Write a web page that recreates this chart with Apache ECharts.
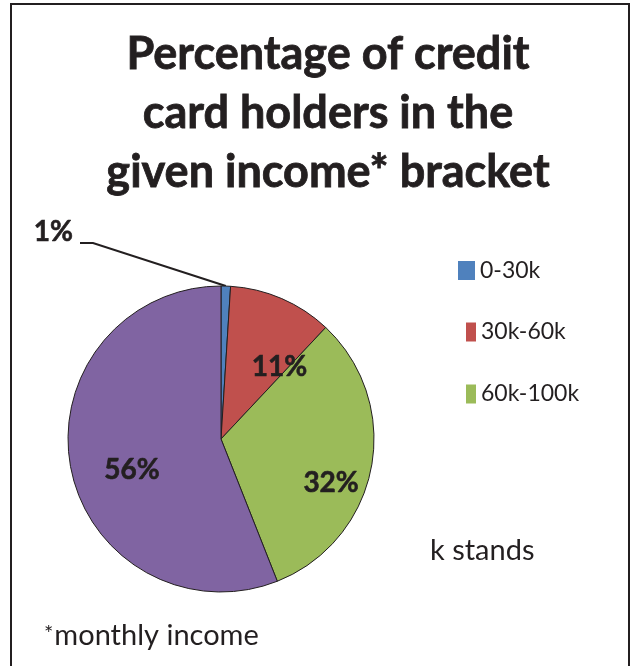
<!DOCTYPE html>
<html>
<head>
<meta charset="utf-8">
<script src="https://cdn.jsdelivr.net/npm/echarts@6/dist/echarts.min.js"></script>
<style>
  html, body { margin: 0; padding: 0; background: #ffffff; }
  #chart { width: 632px; height: 666px; }
</style>
</head>
<body>
<div id="chart"></div>
<script>
// Income brackets and the share of card holders in each
const brackets = ['0-30k', '30k-60k', '60k-100k', '>100k'];
const shares = [1, 11, 32, 56];
const legendBrackets = ['0-30k', '30k-60k', '60k-100k'];
const titleLines = ['Percentage of credit', 'card holders in the', 'given income* bracket'];
const noteText = 'monthly income';
const keyText = 'k stands';

// Styling
const palette = ['#4F81BD', '#C0504D', '#9BBB59', '#8064A2'];
const ink = '#231f20';
const font = 'Lato';
// Per-slice shift of the inside labels away from the default half-radius spot
const labelNudge = [null, [27, 1], [32, 29], [-11, 16]];
// Legend swatch placement (one legend block per entry)
const legendSpec = [
  { left: 458, top: 259, w: 17 },
  { left: 466, top: 320.5, w: 10 },
  { left: 466, top: 382.5, w: 10 }
];

const chart = echarts.init(document.getElementById('chart'), null, { renderer: 'canvas' });

const option = {
  animation: false,
  backgroundColor: '#ffffff',
  legend: legendBrackets.map((name, i) => ({
    data: [name],
    left: legendSpec[i].left,
    top: legendSpec[i].top,
    padding: 0,
    icon: 'rect',
    itemWidth: legendSpec[i].w,
    itemHeight: 19,
    selectedMode: false,
    itemStyle: { borderWidth: 0 },
    textStyle: { fontFamily: font, fontSize: 23, color: ink, lineHeight: 19 }
  })),
  graphic: [
    {
      type: 'rect',
      silent: true,
      shape: { x: 11, y: 4, width: 618, height: 720 },
      style: { fill: 'none', stroke: ink, lineWidth: 2 }
    },
    {
      type: 'text',
      silent: true,
      x: 328,
      y: 25,
      style: {
        text: titleLines.join('\n'),
        textAlign: 'center',
        textVerticalAlign: 'top',
        fontFamily: font,
        fontWeight: 'bold',
        fontSize: 45,
        lineHeight: 59,
        fill: ink,
        stroke: ink,
        lineWidth: 0.8
      }
    },
    {
      type: 'text',
      silent: true,
      x: 430,
      y: 551,
      style: {
        text: keyText,
        textAlign: 'left',
        textVerticalAlign: 'middle',
        fontFamily: font,
        fontSize: 29,
        fill: ink
      }
    },
    {
      type: 'text',
      silent: true,
      x: 44,
      y: 636,
      style: {
        text: '{star|*}{body|' + noteText + '}',
        textAlign: 'left',
        textVerticalAlign: 'middle',
        rich: {
          star: { fontFamily: font, fontSize: 22, fill: ink, verticalAlign: 'top', padding: [1, 1, 0, 0] },
          body: { fontFamily: font, fontSize: 29, fill: ink }
        }
      }
    }
  ],
  series: [
    {
      type: 'pie',
      center: [221, 439],
      radius: 153,
      startAngle: 90,
      clockwise: true,
      avoidLabelOverlap: false,
      emphasis: { disabled: true },
      itemStyle: { borderColor: ink, borderWidth: 1 },
      label: {
        formatter: '{c}%',
        fontFamily: font,
        fontWeight: 'bold',
        fontSize: 28,
        color: ink,
        textBorderColor: ink,
        textBorderWidth: 0.6
      },
      labelLine: { lineStyle: { color: ink, width: 2 }, length: 20, length2: 20 },
      labelLayout: function (p) {
        const r = p.labelRect;
        if (p.dataIndex === 0) {
          const anchor = p.labelLinePoints ? p.labelLinePoints[0] : [226, 286];
          return {
            x: 73, y: 232, align: 'right', verticalAlign: 'middle',
            labelLinePoints: [anchor, [93, 243], [80, 243]]
          };
        }
        const n = labelNudge[p.dataIndex];
        return {
          x: r.x + r.width / 2 + n[0],
          y: r.y + r.height / 2 + n[1],
          align: 'center',
          verticalAlign: 'middle'
        };
      },
      data: brackets.map((name, i) => ({
        name: name,
        value: shares[i],
        itemStyle: { color: palette[i] },
        label: { position: i === 0 ? 'outside' : 'inside' },
        labelLine: { show: i === 0 }
      }))
    }
  ]
};

chart.setOption(option);
</script>
</body>
</html>
